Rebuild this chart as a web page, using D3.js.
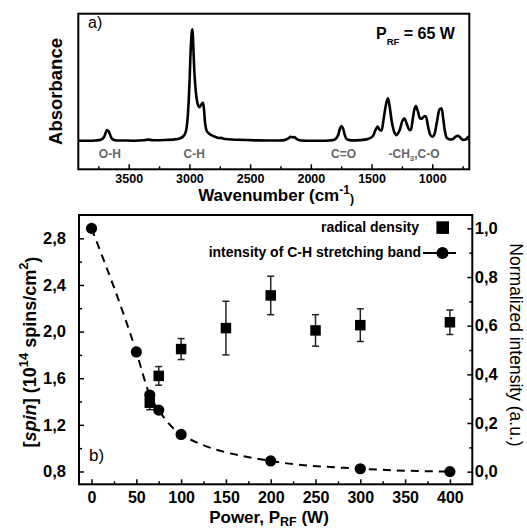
<!DOCTYPE html>
<html><head><meta charset="utf-8">
<script src="https://cdn.jsdelivr.net/npm/d3@7"></script>
<style>
body{margin:0;background:#fff;}
svg{display:block;font-family:"Liberation Sans",Arial,sans-serif;}
</style></head>
<body><svg id="c" width="527" height="529"></svg>
<script>
// ---------- Panel a: FTIR spectrum (wavenumber, absorbance normalised to C-H peak) ----------
const specWn = [3915,3850,3780,3730,3705,3690,3678,3665,3650,3635,3610,3550,3450,3380,3340,3300,3200,3120,3080,3050,3030,3015,3000,2990,2980,2975,2968,2958,2945,2932,2920,2905,2890,2880,2870,2858,2845,2820,2790,2760,2740,2700,2600,2450,2300,2220,2185,2165,2150,2135,2115,2090,1950,1850,1800,1775,1760,1748,1735,1720,1705,1680,1600,1530,1490,1470,1450,1435,1420,1400,1380,1365,1350,1330,1310,1295,1270,1245,1228,1210,1190,1178,1160,1145,1135,1120,1100,1085,1065,1052,1035,1015,1000,985,960,940,925,910,895,880,860,830,810,790,775,755,735,715,706,698,695];
const specAbs = [0,0,0.002,0.008,0.03,0.07,0.095,0.085,0.045,0.015,0.004,0.002,0,0.004,0.01,0.004,0.006,0.012,0.02,0.04,0.08,0.2,0.5,0.8,0.98,1.0,0.85,0.6,0.42,0.33,0.30,0.32,0.34,0.28,0.15,0.09,0.07,0.05,0.035,0.025,0.025,0.015,0.008,0.003,0.002,0.005,0.02,0.036,0.03,0.033,0.015,0.004,0,0.002,0.012,0.05,0.11,0.132,0.11,0.05,0.015,0.005,0.005,0.015,0.04,0.09,0.126,0.10,0.09,0.2,0.33,0.38,0.30,0.15,0.07,0.05,0.09,0.18,0.20,0.15,0.10,0.096,0.2,0.29,0.31,0.27,0.20,0.2,0.22,0.215,0.13,0.05,0.036,0.05,0.18,0.28,0.29,0.2,0.08,0.025,0.013,0.015,0.035,0.045,0.035,0.012,0.008,0.02,0.036,0.01,0.005];
const wnTicks = [3500,3000,2500,2000,1500,1000];
const wnMinor = [3750,3250,2750,2250,1750,1250,750];
const bandLabels = ["O-H","C-H","C=O"];
const bandPos = [3655,2960,1730];

// ---------- Panel b ----------
const powerRad = [65,75,100,150,200,250,300,400];
const spinRad = [1.39,1.62,1.85,2.03,2.31,2.01,2.055,2.08];
const spinErr = [0.06,0.08,0.09,0.23,0.165,0.135,0.14,0.105];
const powerCH = [0,50,65,75,100,200,300,400];
const intCH = [1.0,0.492,0.315,0.253,0.153,0.044,0.012,0.0];
const powerTicks = [0,50,100,150,200,250,300,350,400];
const powerMinor = [25,75,125,175,225,275,325,375];
const spinTicks = [0.8,1.2,1.6,2.0,2.4,2.8];
const spinMinor = [1.0,1.4,1.8,2.2,2.6];
const normTicks = [0,0.2,0.4,0.6,0.8,1.0];
const normMinor = [0.1,0.3,0.5,0.7,0.9];
const legendLabels = ["radical density","intensity of C-H stretching band"];

const svg = d3.select("#c");
const comma = v => d3.format(".1f")(v).replace(".", ",");

// ===== Panel a =====
const A = {l:78.3, r:469.3, t:13.7, b:169.3};
const xW = d3.scaleLinear().domain([3915,695]).range([A.l,A.r]);
const yA = d3.scaleLinear().domain([0,1]).range([140.7,29.3]);

const ga = svg.append("g");
ga.append("g").attr("transform",`translate(0,${A.b})`)
  .call(d3.axisBottom(xW).tickValues(wnTicks).tickSizeInner(-5).tickSizeOuter(0).tickPadding(5).tickFormat(d3.format("d")))
  .call(g=>g.select(".domain").remove())
  .call(g=>g.selectAll("text").attr("font-size",12.5).attr("font-weight","bold").attr("font-family","Liberation Sans, Arial").attr("fill","#000"))
  .call(g=>g.selectAll("line").attr("stroke","#000").attr("stroke-width",1.5));
ga.append("g").attr("transform",`translate(0,${A.b})`)
  .call(d3.axisBottom(xW).tickValues(wnMinor).tickSizeInner(-3).tickSizeOuter(0).tickFormat(""))
  .call(g=>g.select(".domain").remove())
  .call(g=>g.selectAll("line").attr("stroke","#000").attr("stroke-width",1.5));

const specData = specWn.map((w,i)=>[w,specAbs[i]]);
ga.append("path").datum(specData)
  .attr("d", d3.line().x(d=>xW(d[0])).y(d=>yA(d[1])).curve(d3.curveCatmullRom.alpha(0.5)))
  .attr("fill","none").attr("stroke","#000").attr("stroke-width",2.6).attr("stroke-linejoin","round");

ga.append("rect").attr("x",A.l).attr("y",A.t).attr("width",A.r-A.l).attr("height",A.b-A.t)
  .attr("fill","none").attr("stroke","#000").attr("stroke-width",2);

bandLabels.forEach((t,i)=>{
  ga.append("text").attr("x",xW(bandPos[i])).attr("y",158.3).attr("text-anchor","middle")
    .attr("font-size",12).attr("font-weight","bold").attr("fill","#666").text(t);
});
const ch3 = ga.append("text").attr("x",xW(1150)).attr("y",158.3).attr("text-anchor","middle")
  .attr("font-size",12).attr("font-weight","bold").attr("fill","#666");
ch3.append("tspan").text("-CH");
ch3.append("tspan").attr("font-size",8).attr("dy",3).text("3");
ch3.append("tspan").attr("dy",-3).text(",C-O");

ga.append("text").attr("x",88).attr("y",28).attr("font-size",16).attr("fill","#000").text("a)");
const prf = ga.append("text").attr("x",376).attr("y",39.3).attr("font-size",16).attr("font-weight","bold");
prf.append("tspan").text("P");
prf.append("tspan").attr("font-size",9.5).attr("dy",6).text("RF");
prf.append("tspan").attr("dy",-6).text(" = 65 W");

ga.append("text").attr("transform","translate(61.5,91.5) rotate(-90)").attr("text-anchor","middle")
  .attr("font-size",18.5).attr("font-weight","bold").text("Absorbance");

const wl = ga.append("text").attr("x",276).attr("y",200.5).attr("text-anchor","middle")
  .attr("font-size",17).attr("font-weight","bold");
wl.append("tspan").text("Wavenumber (cm");
wl.append("tspan").attr("font-size",12).attr("dy",-7).text("-1");
wl.append("tspan").attr("font-size",12).attr("dy",9).text(")");

// ===== Panel b =====
const B = {l:79, r:472.3, t:215, b:484.3};
const xP = d3.scaleLinear().domain([-14,425]).range([B.l,B.r]);
const yL = d3.scaleLinear().domain([0.69,3.0]).range([B.b,B.t]);
const yR = d3.scaleLinear().domain([-0.052,1.055]).range([B.b,B.t]);
const gb = svg.append("g");

function styleAxis(g,fs){
  g.select(".domain").remove();
  g.selectAll("text").attr("font-size",fs).attr("font-weight","bold").attr("font-family","Liberation Sans, Arial").attr("fill","#000");
  g.selectAll("line").attr("stroke","#000").attr("stroke-width",1.5);
}
gb.append("g").attr("transform",`translate(0,${B.b})`)
  .call(d3.axisBottom(xP).tickValues(powerTicks).tickSizeInner(-5).tickSizeOuter(0).tickPadding(7).tickFormat(d3.format("d")))
  .call(g=>styleAxis(g,16));
gb.append("g").attr("transform",`translate(0,${B.b})`)
  .call(d3.axisBottom(xP).tickValues(powerMinor).tickSizeInner(-3).tickSizeOuter(0).tickFormat(""))
  .call(g=>styleAxis(g,16));
gb.append("g").attr("transform",`translate(${B.l},0)`)
  .call(d3.axisLeft(yL).tickValues(spinTicks).tickSizeInner(-5).tickSizeOuter(0).tickPadding(13).tickFormat(comma))
  .call(g=>styleAxis(g,16.5));
gb.append("g").attr("transform",`translate(${B.l},0)`)
  .call(d3.axisLeft(yL).tickValues(spinMinor).tickSizeInner(-3).tickSizeOuter(0).tickFormat(""))
  .call(g=>styleAxis(g,16));
gb.append("g").attr("transform",`translate(${B.r},0)`)
  .call(d3.axisRight(yR).tickValues(normTicks).tickSizeInner(-5).tickSizeOuter(0).tickPadding(2.5).tickFormat(comma))
  .call(g=>styleAxis(g,16.5));
gb.append("g").attr("transform",`translate(${B.r},0)`)
  .call(d3.axisRight(yR).tickValues(normMinor).tickSizeInner(-3).tickSizeOuter(0).tickFormat(""))
  .call(g=>styleAxis(g,16));

// dashed C-H line
const chData = powerCH.map((p,i)=>[p,intCH[i]]);
gb.append("path").datum(chData)
  .attr("d", d3.line().x(d=>xP(d[0])).y(d=>yR(d[1])).curve(d3.curveMonotoneX))
  .attr("fill","none").attr("stroke","#000").attr("stroke-width",2).attr("stroke-dasharray","8,6");

// error bars
const radData = powerRad.map((p,i)=>({p, v:spinRad[i], e:spinErr[i]}));
const eb = gb.append("g").attr("stroke","#222").attr("stroke-width",1.5);
radData.forEach(d=>{
  const x = xP(d.p);
  eb.append("line").attr("x1",x).attr("x2",x).attr("y1",yL(d.v-d.e)).attr("y2",yL(d.v+d.e));
  eb.append("line").attr("x1",x-3.5).attr("x2",x+3.5).attr("y1",yL(d.v-d.e)).attr("y2",yL(d.v-d.e));
  eb.append("line").attr("x1",x-3.5).attr("x2",x+3.5).attr("y1",yL(d.v+d.e)).attr("y2",yL(d.v+d.e));
});
const sq = 10.5;
gb.selectAll("rect.sq").data(radData).join("rect").attr("class","sq")
  .attr("x",d=>xP(d.p)-sq/2).attr("y",d=>yL(d.v)-sq/2).attr("width",sq).attr("height",sq).attr("fill","#000");
gb.selectAll("circle.ch").data(chData).join("circle").attr("class","ch")
  .attr("cx",d=>xP(d[0])).attr("cy",d=>yR(d[1])).attr("r",5.6).attr("fill","#000");

gb.append("rect").attr("x",B.l).attr("y",B.t).attr("width",B.r-B.l).attr("height",B.b-B.t)
  .attr("fill","none").attr("stroke","#000").attr("stroke-width",2);

// legend
gb.append("text").attr("x",419).attr("y",232).attr("text-anchor","end").attr("font-size",14).attr("font-weight","bold").text(legendLabels[0]);
gb.append("rect").attr("x",442.7-6.3).attr("y",227.6-6.3).attr("width",12.6).attr("height",12.6).attr("fill","#000");
gb.append("text").attr("x",421).attr("y",257).attr("text-anchor","end").attr("font-size",14).attr("font-weight","bold").text(legendLabels[1]);
gb.append("line").attr("x1",423).attr("x2",456).attr("y1",253).attr("y2",253).attr("stroke","#000").attr("stroke-width",2);
gb.append("circle").attr("cx",442.5).attr("cy",253).attr("r",6).attr("fill","#000");

gb.append("text").attr("x",89).attr("y",461).attr("font-size",17).attr("fill","#000").text("b)");

// axis titles
const pl = gb.append("text").attr("x",269).attr("y",523).attr("text-anchor","middle").attr("font-size",17).attr("font-weight","bold");
pl.append("tspan").text("Power, P");
pl.append("tspan").attr("font-size",12.5).attr("dy",2.5).text("RF");
pl.append("tspan").attr("dy",-2.5).text(" (W)");

const ll = gb.append("text").attr("transform","translate(36,352) rotate(-90)").attr("text-anchor","middle")
  .attr("font-size",18).attr("font-weight","bold");
ll.append("tspan").text("[");
ll.append("tspan").attr("font-style","italic").text("spin");
ll.append("tspan").text("] (10");
ll.append("tspan").attr("font-size",13).attr("dy",-8).text("14");
ll.append("tspan").attr("dy",8).text(" spins/cm");
ll.append("tspan").attr("font-size",13).attr("dy",-8).text("2");
ll.append("tspan").attr("dy",10).text(")");

gb.append("text").attr("transform","translate(509.5,345) rotate(90)").attr("text-anchor","middle")
  .attr("font-size",17.5).attr("fill","#000").text("Normalized intensity (a.u.)");
</script></body></html>
